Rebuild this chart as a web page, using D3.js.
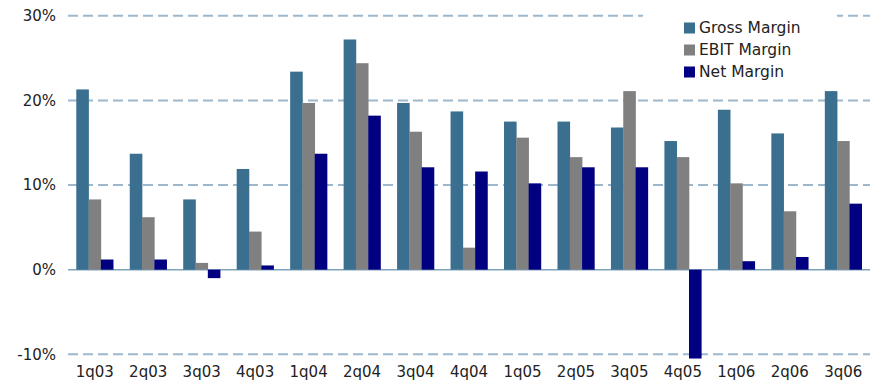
<!DOCTYPE html>
<html>
<head>
<meta charset="utf-8">
<script src="https://cdn.jsdelivr.net/npm/d3@7/dist/d3.min.js"></script>
<style>
  html, body { margin: 0; padding: 0; background: #fff; }
  svg { display: block; }
  text { font-family: "DejaVu Sans", Verdana, sans-serif; fill: #222; }
</style>
</head>
<body>
<svg id="chart" width="881" height="389"></svg>
<script>
// Quarterly margins, in percent
const quarters = ["1q03","2q03","3q03","4q03","1q04","2q04","3q04","4q04",
                  "1q05","2q05","3q05","4q05","1q06","2q06","3q06"];
const grossMargin = [21.3, 13.7, 8.3, 11.9, 23.4, 27.2, 19.7, 18.7, 17.5, 17.5, 16.8, 15.2, 18.9, 16.1, 21.1];
const ebitMargin  = [8.3, 6.2, 0.8, 4.5, 19.7, 24.4, 16.3, 2.6, 15.6, 13.3, 21.1, 13.3, 10.2, 6.9, 15.2];
const netMargin   = [1.2, 1.2, -1.0, 0.5, 13.7, 18.2, 12.1, 11.6, 10.2, 12.1, 12.1, -10.5, 1.0, 1.5, 7.8];
const seriesNames = ["Gross Margin", "EBIT Margin", "Net Margin"];
const seriesColors = ["#3a6f90", "#808080", "#000080"];
const yTicks = [-10, 0, 10, 20, 30];

const series = [grossMargin, ebitMargin, netMargin];
const svg = d3.select("#chart");

const x0 = d3.scaleBand().domain(quarters).range([68, 870]).paddingInner(0.31).paddingOuter(0.155);
const x1 = d3.scaleBand().domain(d3.range(series.length)).range([0, x0.bandwidth()]);
const y = d3.scaleLinear().domain([-10, 30]).range([354.3, 15.8]);

// Gridlines (dashed) behind the bars
const grid = svg.append("g");
grid.selectAll("line.grid")
  .data(yTicks.filter(d => d !== 0))
  .join("line")
  .attr("x1", 68).attr("x2", 870)
  .attr("y1", d => y(d)).attr("y2", d => y(d))
  .attr("stroke", "#9db8cc").attr("stroke-width", 2)
  .attr("stroke-dasharray", "10,5");

// Zero baseline
grid.append("line")
  .attr("x1", 68).attr("x2", 870)
  .attr("y1", y(0)).attr("y2", y(0))
  .attr("stroke", "#7fa3bc").attr("stroke-width", 1.5);

// Bars
const groups = svg.append("g").selectAll("g")
  .data(quarters)
  .join("g")
  .attr("transform", q => `translate(${x0(q)},0)`);

groups.selectAll("rect")
  .data((q, i) => series.map((s, k) => ({ k, v: s[i] })))
  .join("rect")
  .attr("x", d => x1(d.k))
  .attr("width", x1.bandwidth() + 0.3)
  .attr("y", d => y(Math.max(0, d.v)))
  .attr("height", d => Math.abs(y(d.v) - y(0)))
  .attr("fill", d => seriesColors[d.k]);

// Y axis labels
const yAxis = d3.axisLeft(y).tickValues(yTicks).tickFormat(d => d + "%").tickSize(0).tickPadding(0);
const ya = svg.append("g").attr("transform", "translate(56,0)").call(yAxis);
ya.select(".domain").remove();
ya.selectAll("text").attr("font-size", 15).attr("font-family", "DejaVu Sans").attr("fill", "#2a2a2a");

// X axis labels
const xAxis = d3.axisBottom(x0).tickSize(0).tickPadding(0);
const xa = svg.append("g").attr("transform", "translate(0,366)").call(xAxis);
xa.select(".domain").remove();
xa.selectAll("text").attr("font-size", 15).attr("font-family", "DejaVu Sans").attr("fill", "#2a2a2a");

// Legend
const legend = svg.append("g");
legend.append("rect").attr("x", 643).attr("y", 4).attr("width", 194).attr("height", 82).attr("fill", "#fff");
const items = legend.selectAll("g.item")
  .data(seriesNames)
  .join("g")
  .attr("transform", (d, i) => `translate(684,${28 + i * 22})`);
items.append("rect").attr("x", 0).attr("y", -5.5).attr("width", 11).attr("height", 11)
  .attr("fill", (d, i) => seriesColors[i]);
items.append("text").attr("x", 15).attr("dy", "0.35em")
  .attr("font-size", 15.5).attr("fill", "#2a2a2a").text(d => d);
</script>
</body>
</html>
